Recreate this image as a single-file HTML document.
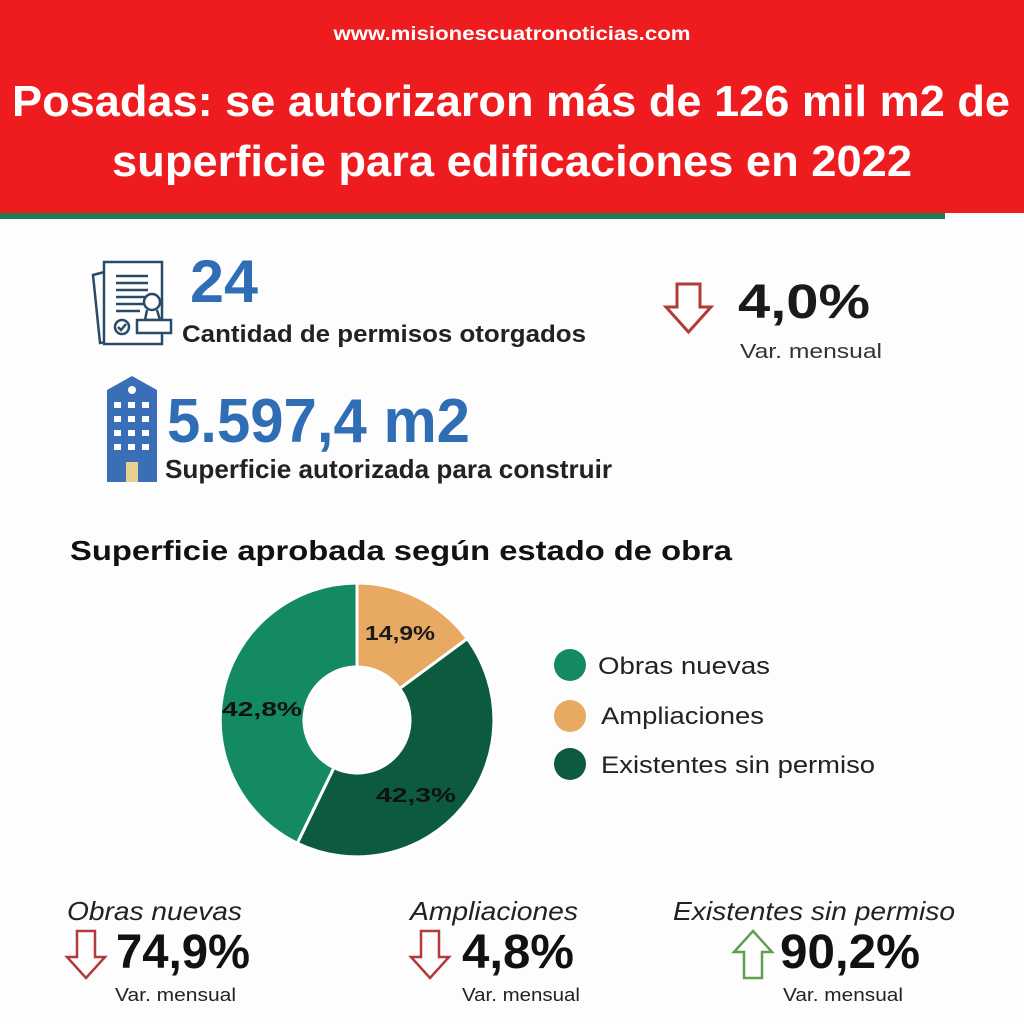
<!DOCTYPE html>
<html><head><meta charset="utf-8"><style>html,body{margin:0;padding:0;background:#fff}svg{display:block}</style></head>
<body>
<svg width="1024" height="1024" viewBox="0 0 1024 1024" xmlns="http://www.w3.org/2000/svg" font-family="Liberation Sans, sans-serif">
<rect x="0" y="0" width="1024" height="1024" fill="#fdfdfd"/>
<rect x="0" y="0" width="1024" height="213" fill="#ee1c1f"/>
<rect x="0" y="213" width="945" height="6" fill="#1f7a55"/>
<text x="512" y="40" text-anchor="middle" font-size="19" font-weight="bold" fill="#fff" textLength="357" lengthAdjust="spacingAndGlyphs">www.misionescuatronoticias.com</text>
<text x="12" y="116" font-size="44" font-weight="bold" fill="#fff" textLength="998" lengthAdjust="spacingAndGlyphs">Posadas: se autorizaron más de 126 mil m2 de</text>
<text x="112" y="176" font-size="44" font-weight="bold" fill="#fff" textLength="800" lengthAdjust="spacingAndGlyphs">superficie para edificaciones en 2022</text>

<!-- document icon -->
<g fill="none" stroke="#2a4a6a" stroke-width="2.5">
<path d="M93 275 L112 270 L120 340 L100 343 Z"/>
<rect x="104" y="262" width="58" height="82" fill="#fff"/>
<path d="M116 276h32M116 283h32M116 290h32M116 297h32M116 304h28M116 311h24"/>
<circle cx="122" cy="327" r="7"/>
<path d="M118 327l3 3 5-6"/>
<circle cx="152" cy="302" r="8" fill="#fff"/>
<path d="M147 310 L145 320 H160 L157 310"/>
<rect x="137" y="320" width="34" height="13" fill="#fff"/>
</g>
<text x="190" y="302" font-size="60" font-weight="bold" fill="#2f6db5" textLength="68" lengthAdjust="spacingAndGlyphs">24</text>
<text x="182" y="342" font-size="24" font-weight="bold" fill="#222" textLength="404" lengthAdjust="spacingAndGlyphs">Cantidad de permisos otorgados</text>

<path d="M677 284 H700 V307 H711 L688.5 332 L666 307 H677 Z" fill="none" stroke="#b23a3a" stroke-width="3"/>
<text x="738" y="318" font-size="48" font-weight="bold" fill="#1a1a1a" textLength="132" lengthAdjust="spacingAndGlyphs">4,0%</text>
<text x="740" y="358" font-size="20" fill="#333" textLength="142" lengthAdjust="spacingAndGlyphs">Var. mensual</text>

<!-- building -->
<path d="M107 390 L132 376 L157 390 V482 H107 Z" fill="#3a6fb7"/>
<circle cx="132" cy="390" r="4" fill="#fff"/>
<g fill="#fff">
<rect x="114" y="402" width="7" height="6"/><rect x="128" y="402" width="7" height="6"/><rect x="142" y="402" width="7" height="6"/>
<rect x="114" y="416" width="7" height="6"/><rect x="128" y="416" width="7" height="6"/><rect x="142" y="416" width="7" height="6"/>
<rect x="114" y="430" width="7" height="6"/><rect x="128" y="430" width="7" height="6"/><rect x="142" y="430" width="7" height="6"/>
<rect x="114" y="444" width="7" height="6"/><rect x="128" y="444" width="7" height="6"/><rect x="142" y="444" width="7" height="6"/>
</g>
<rect x="126" y="462" width="12" height="20" fill="#e7cf8e"/>
<text x="167" y="442" font-size="62" font-weight="bold" fill="#2f6db5" textLength="303" lengthAdjust="spacingAndGlyphs">5.597,4 m2</text>
<text x="165" y="478" font-size="26" font-weight="bold" fill="#222" textLength="447" lengthAdjust="spacingAndGlyphs">Superficie autorizada para construir</text>

<text x="70" y="560" font-size="28" font-weight="bold" fill="#111" textLength="662" lengthAdjust="spacingAndGlyphs">Superficie aprobada según estado de obra</text>

<!-- donut: center 357,720 R 137 r 53 -->
<g stroke="#fff" stroke-width="3">
<path d="M357 583 A137 137 0 0 1 467.3 638.7 L399.7 688.6 A53 53 0 0 0 357 667 Z" fill="#e8a962"/>
<path d="M467.3 638.7 A137 137 0 0 1 297.3 843.2 L333.9 767.7 A53 53 0 0 0 399.7 688.6 Z" fill="#0d5b3f"/>
<path d="M297.3 843.2 A137 137 0 0 1 357 583 L357 667 A53 53 0 0 0 333.9 767.7 Z" fill="#148a63"/>
</g>
<text x="365" y="640" font-size="20" font-weight="bold" fill="#1a1a1a" textLength="70" lengthAdjust="spacingAndGlyphs">14,9%</text>
<text x="222" y="716" font-size="20" font-weight="bold" fill="#111" textLength="80" lengthAdjust="spacingAndGlyphs">42,8%</text>
<text x="376" y="802" font-size="20" font-weight="bold" fill="#111" textLength="80" lengthAdjust="spacingAndGlyphs">42,3%</text>

<circle cx="570" cy="665" r="16" fill="#148a63"/>
<circle cx="570" cy="716" r="16" fill="#e8a962"/>
<circle cx="570" cy="764" r="16" fill="#0d5b3f"/>
<text x="598" y="674" font-size="24" fill="#222" textLength="172" lengthAdjust="spacingAndGlyphs">Obras nuevas</text>
<text x="601" y="724" font-size="24" fill="#222" textLength="163" lengthAdjust="spacingAndGlyphs">Ampliaciones</text>
<text x="601" y="773" font-size="24" fill="#222" textLength="274" lengthAdjust="spacingAndGlyphs">Existentes sin permiso</text>

<!-- bottom -->
<text x="67" y="920" font-size="26" font-style="italic" fill="#222" textLength="175" lengthAdjust="spacingAndGlyphs">Obras nuevas</text>
<path d="M77 931 H95 V957 H105 L86 978 L67 957 H77 Z" fill="none" stroke="#b23a3a" stroke-width="2.5"/>
<text x="116" y="968" font-size="48" font-weight="bold" fill="#111" textLength="134" lengthAdjust="spacingAndGlyphs">74,9%</text>
<text x="115" y="1001" font-size="18" fill="#222" textLength="121" lengthAdjust="spacingAndGlyphs">Var. mensual</text>

<text x="410" y="920" font-size="26" font-style="italic" fill="#222" textLength="168" lengthAdjust="spacingAndGlyphs">Ampliaciones</text>
<path d="M421 931 H439 V957 H449 L430 978 L411 957 H421 Z" fill="none" stroke="#b23a3a" stroke-width="2.5"/>
<text x="462" y="968" font-size="48" font-weight="bold" fill="#111" textLength="112" lengthAdjust="spacingAndGlyphs">4,8%</text>
<text x="462" y="1001" font-size="18" fill="#222" textLength="118" lengthAdjust="spacingAndGlyphs">Var. mensual</text>

<text x="673" y="920" font-size="26" font-style="italic" fill="#222" textLength="282" lengthAdjust="spacingAndGlyphs">Existentes sin permiso</text>
<path d="M744 978 H762 V952 H772 L753 931 L734 952 H744 Z" fill="none" stroke="#5f9f4f" stroke-width="2.5"/>
<text x="780" y="968" font-size="48" font-weight="bold" fill="#111" textLength="140" lengthAdjust="spacingAndGlyphs">90,2%</text>
<text x="783" y="1001" font-size="18" fill="#222" textLength="120" lengthAdjust="spacingAndGlyphs">Var. mensual</text>
</svg>
</body></html>
